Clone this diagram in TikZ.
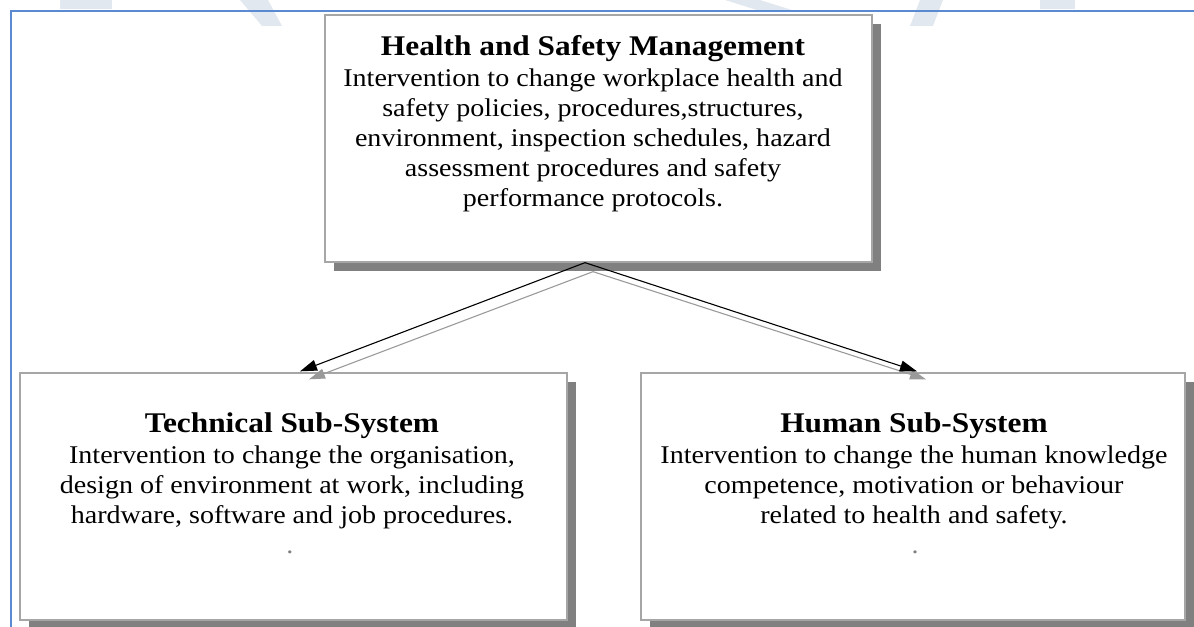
\documentclass[tikz,border=0pt]{standalone}
\usepackage{fontspec}
\setmainfont{Liberation Serif}[FakeStretch=1.1]
\usetikzlibrary{shadows,arrows.meta,calc}
\definecolor{frameblue}{HTML}{5A8AD2}
\definecolor{boxline}{HTML}{A6A6A6}
\definecolor{shadowgray}{HTML}{808080}
\definecolor{ghostline}{HTML}{9A9A9A}
\definecolor{watermark}{HTML}{E2E8EF}

\begin{document}
\begin{tikzpicture}[x=1bp,y=-1bp,
  panel/.style={draw=boxline, line width=1.3bp, fill=white, rectangle, inner sep=0pt,
    minimum height=247bp,
    drop shadow={shadow xshift=9bp, shadow yshift=-9bp, fill=shadowgray, opacity=1}},
  heading/.style={font=\fontsize{28.5bp}{30bp}\selectfont\bfseries, anchor=base, inner sep=0pt},
  bodytext/.style={font=\fontsize{25.5bp}{30bp}\selectfont, align=center, anchor=base, inner sep=0pt},
  stray/.style={font=\fontsize{25.5bp}{30bp}\selectfont, text=gray, anchor=base, inner sep=0pt},
  link/.style={draw=black, line width=1.1bp, -{Triangle[length=17bp,width=11bp]}},
  linkshade/.style={draw=ghostline, line width=1.1bp, -{Triangle[length=16bp,width=10bp,fill=ghostline]}},
  ghost/.style={fill=watermark, draw=none}
]
\useasboundingbox (0,0) rectangle (1194,627);

% faint background lettering at the top edge
\fill[ghost] (240,0) -- (268,0) -- (282,26) -- (262,26) -- cycle;
\fill[ghost] (920,0) -- (943,0) -- (933,26) -- (910,26) -- cycle;
\fill[ghost] (60,0) -- (112,0) -- (112,9) -- (60,9) -- cycle;
\fill[ghost] (725,0) -- (760,0) -- (795,11) -- (760,11) -- cycle;
\fill[ghost] (1040,0) -- (1075,0) -- (1075,9) -- (1040,9) -- cycle;

% outer frame
\draw[frameblue, line width=1.8bp] (11,640) -- (11,11) -- (1210,11);

% boxes
\node[panel, minimum width=547bp] (mgmt) at (598.5,138.5) {};
\node[panel, minimum width=547bp] (tech) at (293.5,496.5) {};
\node[panel, minimum width=544bp] (human) at (913,496.5) {};

% texts (multi-line blocks are anchored at the baseline of their last line)
\node[heading] (mgmtT) at (593,56) {Health and Safety Management};
\node[bodytext] (mgmtB) at (593,207) {Intervention to change workplace health and\\
  safety policies, procedures,structures,\\
  environment, inspection schedules, hazard\\
  assessment procedures and safety\\
  performance protocols.};

\node[heading] (techT) at (292,432) {Technical Sub-System};
\node[bodytext] (techB) at (292,523) {Intervention to change the organisation,\\
  design of environment at work, including\\
  hardware, software and job procedures.};
\node[stray] (techD) at (290,553) {.};

\node[heading] (humanT) at (914,432) {Human Sub-System};
\node[bodytext] (humanB) at (914,523) {Intervention to change the human knowledge\\
  competence, motivation or behaviour\\
  related to health and safety.};
\node[stray] (humanD) at (915,553) {.};

% connectors with their shadows
\coordinate (fork) at ($(mgmt.south)+(-13.5,0)$);
\coordinate (forkS) at ($(fork)+(8,9)$);
\coordinate (techIn) at ($(tech.north)+(6.5,-1)$);
\coordinate (techInS) at ($(techIn)+(9,8)$);
\coordinate (humanIn) at ($(human.north)+(4,-1)$);
\coordinate (humanInS) at ($(humanIn)+(9,8)$);

\draw[linkshade] (forkS) -- (techInS);
\draw[linkshade] (forkS) -- (humanInS);
\draw[link] (fork) -- (techIn);
\draw[link] (fork) -- (humanIn);
\end{tikzpicture}
\end{document}
